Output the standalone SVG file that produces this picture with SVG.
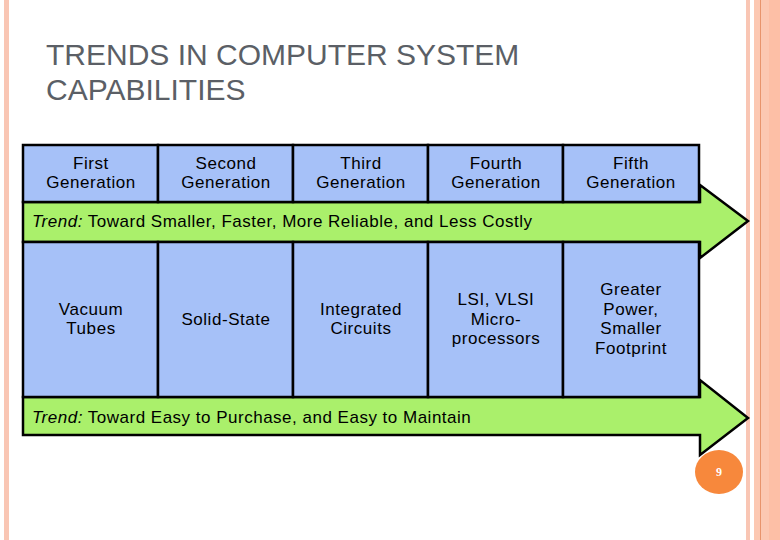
<svg xmlns="http://www.w3.org/2000/svg" width="780" height="540" viewBox="0 0 780 540">
<style>
.t{font-family:"Liberation Sans",Arial,sans-serif;font-size:17px;letter-spacing:0.55px;fill:#000;text-anchor:middle}
.tr{font-family:"Liberation Sans",Arial,sans-serif;font-size:17px;letter-spacing:0.5px;fill:#000}
.box{fill:#a6c1f8;stroke:#000;stroke-width:2.5}
.arr{fill:#aaf06b;stroke:#000;stroke-width:2.5;stroke-linejoin:miter}
</style>
<rect width="780" height="540" fill="#fff"/>
<g id="frame">
<rect x="4" y="0" width="5" height="540" fill="#f9c6b4"/>
<rect x="746" y="0" width="4" height="540" fill="#f9c6b4"/>
<rect x="754" y="0" width="26" height="540" fill="#fcc8b2"/>
<rect x="760" y="0" width="1" height="540" fill="#e8946c"/>
<rect x="769" y="0" width="11" height="540" fill="#fdbfa6"/>
</g>
<g id="title">
<text x="46" y="65" font-family="Liberation Sans,Arial,sans-serif" font-size="30" fill="#5b5f66">TRENDS IN COMPUTER SYSTEM</text>
<text x="46" y="100" font-family="Liberation Sans,Arial,sans-serif" font-size="30" fill="#5b5f66">CAPABILITIES</text>
</g>
<g id="connectors">
<g id="trend1">
<polygon class="arr" points="23,202 700,202 700,185 748,221 700,258 700,242 23,242"/>
<text class="tr" x="32" y="227"><tspan font-style="italic">Trend:</tspan> Toward Smaller, Faster, More Reliable, and Less Costly</text>
</g>
<g id="trend2">
<polygon class="arr" points="23,397 700,397 700,380 748,418 700,455 700,435 23,435"/>
<text class="tr" x="32" y="423"><tspan font-style="italic">Trend:</tspan> Toward Easy to Purchase, and Easy to Maintain</text>
</g>
</g>
<g id="gen1"><rect class="box" x="23" y="145" width="135" height="57"/><text class="t" x="91" y="169">First</text><text class="t" x="91" y="188">Generation</text></g>
<g id="gen2"><rect class="box" x="158" y="145" width="135" height="57"/><text class="t" x="226" y="169">Second</text><text class="t" x="226" y="188">Generation</text></g>
<g id="gen3"><rect class="box" x="293" y="145" width="135" height="57"/><text class="t" x="361" y="169">Third</text><text class="t" x="361" y="188">Generation</text></g>
<g id="gen4"><rect class="box" x="428" y="145" width="135" height="57"/><text class="t" x="496" y="169">Fourth</text><text class="t" x="496" y="188">Generation</text></g>
<g id="gen5"><rect class="box" x="563" y="145" width="136" height="57"/><text class="t" x="631" y="169">Fifth</text><text class="t" x="631" y="188">Generation</text></g>
<g id="tech1"><rect class="box" x="23" y="242" width="135" height="155"/><text class="t" x="91" y="315">Vacuum</text><text class="t" x="91" y="334">Tubes</text></g>
<g id="tech2"><rect class="box" x="158" y="242" width="135" height="155"/><text class="t" x="226" y="325">Solid-State</text></g>
<g id="tech3"><rect class="box" x="293" y="242" width="135" height="155"/><text class="t" x="361" y="315">Integrated</text><text class="t" x="361" y="334">Circuits</text></g>
<g id="tech4"><rect class="box" x="428" y="242" width="135" height="155"/><text class="t" x="496" y="305">LSI, VLSI</text><text class="t" x="496" y="325">Micro-</text><text class="t" x="496" y="344">processors</text></g>
<g id="tech5"><rect class="box" x="563" y="242" width="136" height="155"/><text class="t" x="631" y="295">Greater</text><text class="t" x="631" y="315">Power,</text><text class="t" x="631" y="334">Smaller</text><text class="t" x="631" y="354">Footprint</text></g>
<g id="page">
<ellipse cx="719" cy="472" rx="24" ry="22" fill="#f7883c"/>
<text x="719" y="476" font-family="Liberation Serif,serif" font-size="12" font-weight="bold" fill="#fff" text-anchor="middle">9</text>
</g>
</svg>
